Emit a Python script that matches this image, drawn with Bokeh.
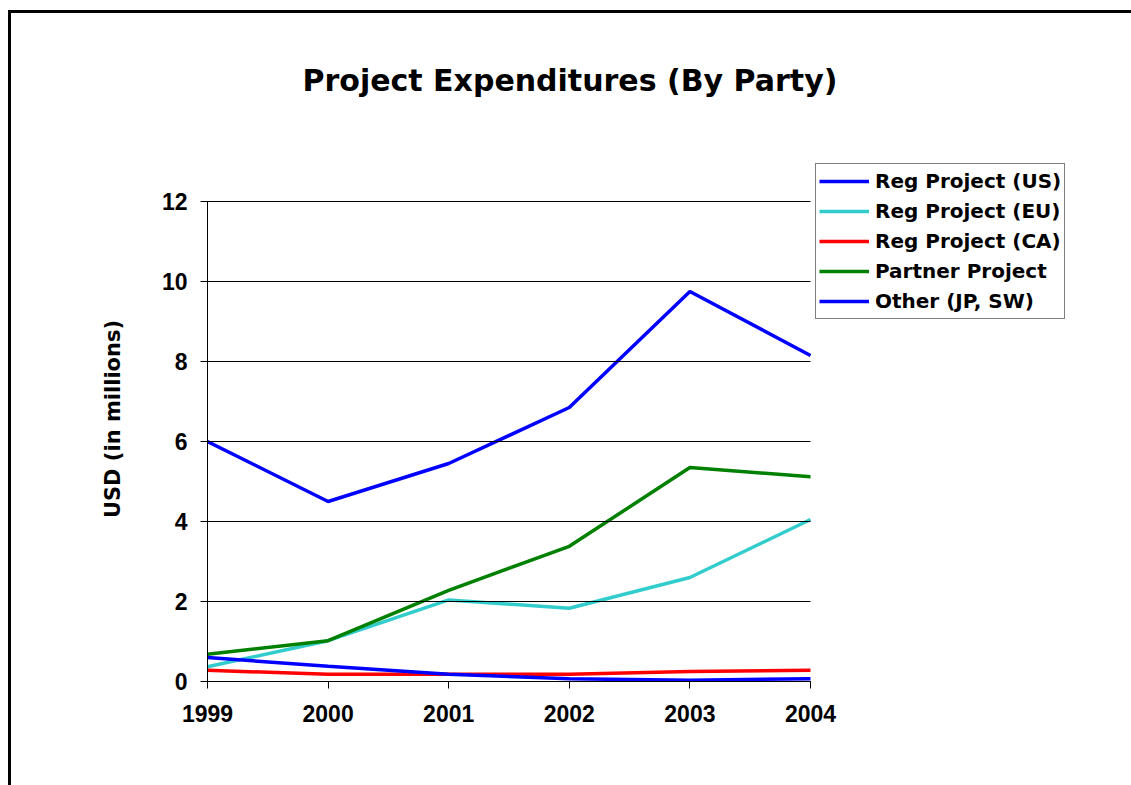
from bokeh.plotting import figure
from bokeh.models import Range1d, FixedTicker, Legend, LegendItem
from bokeh.embed import file_html
from bokeh.resources import INLINE

# ---- data ----
years = [1999, 2000, 2001, 2002, 2003, 2004]
reg_us = [6.0, 4.5, 5.45, 6.85, 9.75, 8.15]
reg_eu = [0.37, 1.02, 2.04, 1.83, 2.6, 4.05]
reg_ca = [0.28, 0.18, 0.18, 0.18, 0.25, 0.28]
partner = [0.68, 1.02, 2.28, 3.38, 5.35, 5.12]
other = [0.6, 0.38, 0.18, 0.07, 0.03, 0.07]
y_ticks = [0, 2, 4, 6, 8, 10, 12]
series_names = ["Reg Project (US)", "Reg Project (EU)", "Reg Project (CA)",
                "Partner Project", "Other (JP, SW)"]
series_colors = ["#0000FF", "#33CCCC", "#FF0000", "#008000", "#0000FF"]
title_text = "Project Expenditures (By Party)"
ylabel_text = "USD (in millions)"

# ---- layout (pixels) ----
W, H = 1131, 785
left, right, top, bottom = 207, 40, 156, 104
plot_w = 603            # width of the charted 1999..2004 span
plot_h = 480            # height of the charted 0..12 span
frame_w = W - left - right
frame_h = H - top - bottom
x_end = years[0] + (years[-1] - years[0]) * frame_w / plot_w
y_end = y_ticks[-1] * frame_h / plot_h

p = figure(width=W, height=H, output_backend="svg", toolbar_location=None,
           x_range=Range1d(years[0], x_end), y_range=Range1d(0, y_end),
           min_border_left=left, min_border_right=right,
           min_border_top=top, min_border_bottom=bottom)
p.outline_line_color = None
p.background_fill_color = "white"
p.border_fill_color = None
# outer frame: top and left edges, as in the reference
p.styles = {
    "background-color": "white",
    "background-image": "linear-gradient(#000, #000), linear-gradient(#000, #000)",
    "background-size": "100% 3px, 3px 100%",
    "background-position": "8px 10px, 8px 10px",
    "background-repeat": "no-repeat",
}

# title
p.title.text = title_text
p.title.align = "left"
p.title.offset = 95
p.title.standoff = 118
p.title.text_font = "DejaVu Sans"
p.title.text_font_style = "bold"
p.title.text_font_size = "30px"
p.title.text_color = "black"

# axes
p.xaxis.ticker = FixedTicker(ticks=years)
p.xaxis.major_label_overrides = {y: str(y) for y in years}
p.xaxis.bounds = (years[0], years[-1])
p.yaxis.ticker = FixedTicker(ticks=y_ticks)
p.yaxis.bounds = (0, y_ticks[-1])
for ax in (p.xaxis[0], p.yaxis[0]):
    ax.axis_line_color = "black"
    ax.axis_line_width = 1
    ax.major_tick_line_color = "black"
    ax.major_tick_line_width = 1
    ax.major_tick_out = 7
    ax.major_tick_in = 0
    ax.minor_tick_out = 0
    ax.minor_tick_in = 0
    ax.major_label_text_font = "Liberation Sans"
    ax.major_label_text_font_style = "bold"
    ax.major_label_text_color = "black"
    ax.major_label_text_font_size = "23px"
# horizontal gridlines: y ticks run across the 1999..2004 span
p.yaxis.major_tick_in = plot_w
p.xaxis.major_label_standoff = 16
p.yaxis.major_label_standoff = 13
p.yaxis.axis_label = ylabel_text
p.yaxis.axis_label_text_font = "DejaVu Sans"
p.yaxis.axis_label_text_font_style = "bold"
p.yaxis.axis_label_text_font_size = "21px"
p.yaxis.axis_label_text_color = "black"
p.yaxis.axis_label_standoff = 34

p.xgrid.visible = False
p.ygrid.visible = False

# lines
series = [reg_us, reg_eu, reg_ca, partner, other]
items = []
for name, vals, col in zip(series_names, series, series_colors):
    r = p.line(years, vals, line_color=col, line_width=3.5)
    items.append(LegendItem(label=name, renderers=[r]))

legend = Legend(items=items, location=(608, 362), orientation="vertical",
                border_line_color="black", border_line_width=1,
                background_fill_color="white", background_fill_alpha=1,
                label_text_font="DejaVu Sans", label_text_font_style="bold",
                label_text_font_size="20px", label_text_color="black",
                glyph_width=50, glyph_height=28, label_height=28,
                label_standoff=6, spacing=2, padding=3, margin=0)
p.add_layout(legend, "center")

open("out.html", "w").write(file_html(p, INLINE))
